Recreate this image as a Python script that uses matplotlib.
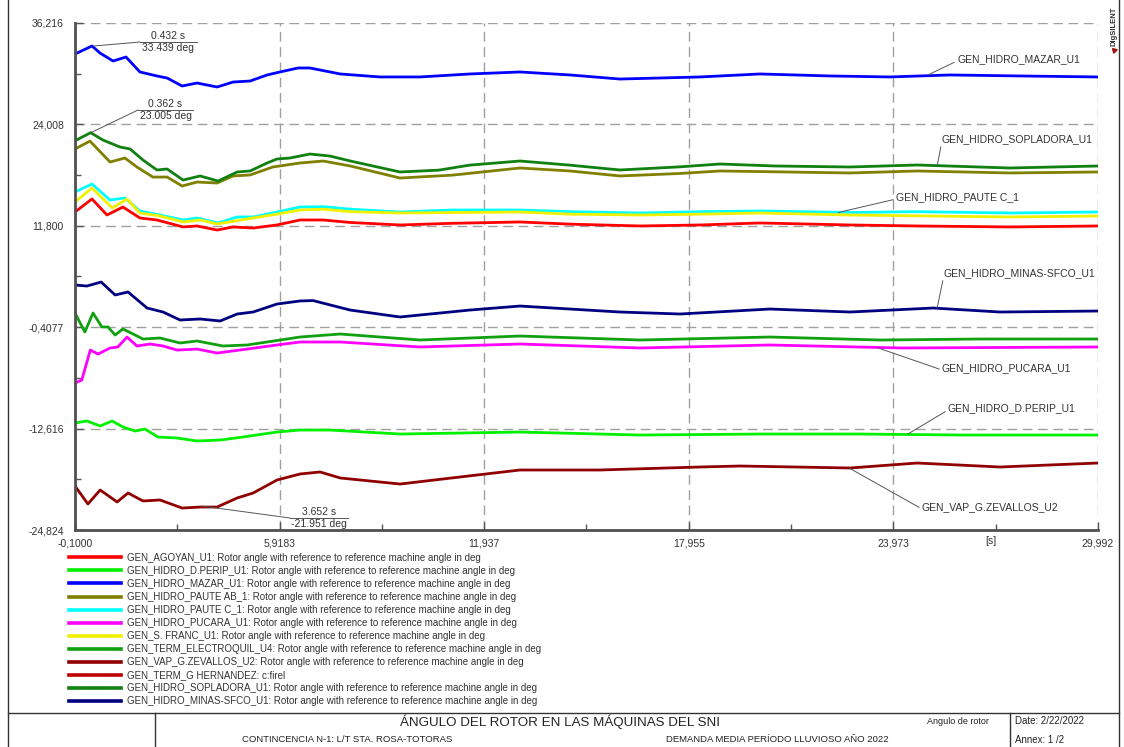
import matplotlib
matplotlib.use('Agg')
import matplotlib.pyplot as plt
from matplotlib.lines import Line2D

plt.rcParams['font.family'] = ['Liberation Sans', 'DejaVu Sans']

# ---- data (time in s, angle in deg) ----
t_agoyan = [-0.1, 0.4, 0.84, 1.31, 1.81, 2.31, 3.08, 3.49, 4.08, 4.55, 5.14, 5.84, 6.52, 7.2, 8.0, 9.46, 11.0, 12.99, 14.46, 16.52, 18.3, 20.05, 22.7, 24.67, 27.4, 29.99]
v_agoyan = [13.46, 15.03, 13.10, 14.06, 12.74, 12.50, 11.66, 11.78, 11.29, 11.66, 11.53, 11.90, 12.50, 12.5, 12.2, 11.90, 12.1, 12.26, 12.0, 11.78, 11.9, 12.14, 11.9, 11.78, 11.66, 11.78]

t_dperip = [-0.1, 0.25, 0.64, 0.99, 1.31, 1.67, 1.96, 2.34, 2.90, 3.49, 4.17, 4.84, 5.84, 6.52, 7.4, 9.46, 12.99, 16.52, 20.05, 23.0, 26.0, 29.99]
v_dperip = [-11.94, -11.70, -12.30, -11.70, -12.42, -12.91, -12.67, -13.63, -13.75, -14.11, -13.99, -13.63, -13.03, -12.79, -12.79, -13.27, -13.03, -13.39, -13.27, -13.27, -13.39, -13.39]

t_mazar = [-0.1, 0.40, 0.635, 1.02, 1.40, 1.81, 2.31, 2.61, 3.05, 3.49, 4.08, 4.55, 5.05, 5.55, 5.93, 6.46, 6.81, 7.70, 8.87, 10.05, 11.52, 12.99, 14.46, 15.93, 18.29, 20.05, 22.11, 23.87, 25.64, 27.7, 29.99]
v_mazar = [32.48, 33.45, 32.60, 31.64, 32.12, 30.32, 29.84, 29.59, 28.63, 28.99, 28.51, 29.11, 29.23, 29.96, 30.32, 30.80, 30.80, 30.08, 29.72, 29.72, 30.08, 30.32, 29.96, 29.47, 29.72, 30.08, 29.84, 29.72, 29.96, 29.84, 29.72]

t_pauteab = [-0.1, 0.34, 0.93, 1.37, 1.72, 2.19, 2.61, 3.05, 3.49, 4.08, 4.55, 5.05, 5.72, 6.52, 7.2, 8.0, 9.46, 11.0, 12.99, 14.46, 15.93, 17.7, 18.87, 20.5, 22.7, 24.67, 27.4, 29.99]
v_pauteab = [21.05, 22.00, 19.48, 19.96, 18.88, 17.67, 17.67, 16.59, 17.07, 16.95, 17.80, 17.92, 18.88, 19.36, 19.6, 19.0, 17.55, 17.9, 18.76, 18.4, 17.8, 18.1, 18.4, 18.3, 18.16, 18.40, 18.16, 18.28]

t_pautec = [-0.1, 0.4, 0.93, 1.37, 1.81, 2.40, 3.08, 3.49, 4.11, 4.67, 5.14, 5.84, 6.52, 7.2, 8.0, 9.46, 11.0, 12.99, 14.46, 16.52, 18.3, 20.05, 22.7, 24.67, 27.4, 29.99]
v_pautec = [15.87, 16.83, 14.91, 15.15, 13.58, 13.10, 12.50, 12.74, 12.14, 12.86, 12.86, 13.46, 14.06, 14.1, 13.8, 13.46, 13.7, 13.70, 13.5, 13.34, 13.5, 13.58, 13.4, 13.5, 13.34, 13.46]

t_pucara = [-0.1, 0.1, 0.35, 0.58, 0.93, 1.16, 1.43, 1.72, 2.11, 2.49, 2.9, 3.49, 4.08, 4.96, 5.84, 6.52, 7.7, 10.05, 12.99, 16.52, 20.34, 24.2, 29.99]
v_pucara = [-7.13, -6.77, -3.16, -3.64, -2.91, -2.79, -1.59, -2.67, -2.43, -2.67, -3.16, -3.04, -3.52, -3.04, -2.55, -2.19, -2.19, -2.79, -2.43, -2.91, -2.55, -2.91, -2.79]

t_sfranc = [-0.1, 0.4, 1.0, 1.43, 1.81, 2.40, 3.08, 3.58, 4.08, 5.14, 5.84, 6.52, 7.2, 8.0, 9.46, 11.0, 12.99, 14.46, 16.52, 18.3, 20.05, 22.7, 24.67, 27.4, 29.99]
v_sfranc = [14.66, 16.35, 13.94, 15.03, 13.34, 12.98, 12.26, 12.5, 12.02, 12.74, 13.2, 13.70, 13.8, 13.5, 13.34, 13.4, 13.46, 13.2, 13.10, 13.2, 13.34, 13.1, 13.0, 12.86, 12.98]

t_electro = [-0.1, 0.19, 0.43, 0.69, 0.87, 1.08, 1.31, 1.90, 2.40, 2.99, 3.49, 4.25, 4.96, 5.55, 6.52, 7.7, 10.05, 12.99, 16.52, 20.34, 23.58, 26.5, 29.99]
v_electro = [1.30, -0.99, 1.30, -0.38, -0.38, -1.35, -0.62, -1.83, -1.71, -2.31, -2.07, -2.67, -2.55, -2.19, -1.59, -1.23, -1.95, -1.47, -1.95, -1.59, -1.95, -1.83, -1.83]

t_zevallos = [-0.1, 0.28, 0.64, 1.14, 1.46, 1.90, 2.40, 3.05, 3.58, 4.08, 4.67, 5.14, 5.84, 6.52, 7.11, 7.7, 9.46, 11.23, 12.99, 15.34, 18.29, 19.46, 22.7, 24.67, 27.11, 29.99]
v_zevallos = [-19.53, -21.69, -20.01, -21.45, -20.37, -21.33, -21.21, -22.18, -22.06, -22.06, -20.97, -20.37, -18.81, -18.08, -17.84, -18.56, -19.29, -18.44, -17.60, -17.60, -17.24, -17.12, -17.36, -16.76, -17.24, -16.76]

t_hernandez = []
v_hernandez = []

t_sopladora = [-0.1, 0.36, 0.72, 1.22, 1.52, 1.90, 2.31, 2.61, 3.08, 3.58, 4.11, 4.67, 5.05, 5.55, 5.84, 6.22, 6.81, 7.4, 8.0, 9.46, 10.6, 11.5, 12.99, 14.46, 15.93, 17.7, 18.87, 20.5, 22.7, 24.67, 27.4, 29.99]
v_sopladora = [22.04, 23.01, 22.13, 21.29, 21.05, 19.72, 18.52, 18.64, 17.31, 17.80, 17.19, 18.28, 18.40, 19.36, 19.84, 19.96, 20.44, 20.2, 19.6, 18.28, 18.5, 19.1, 19.60, 19.1, 18.52, 18.9, 19.24, 19.0, 18.88, 19.12, 18.76, 19.0]

t_minas = [-0.1, 0.25, 0.67, 1.08, 1.46, 2.02, 2.49, 2.99, 3.58, 4.17, 4.67, 5.14, 5.84, 6.52, 6.9, 7.99, 9.46, 11.52, 12.99, 14.46, 15.93, 17.7, 20.34, 22.7, 25.14, 27.11, 29.99]
v_minas = [4.67, 4.55, 5.03, 3.47, 3.83, 1.90, 1.42, 0.46, 0.58, 0.34, 1.18, 1.42, 2.38, 2.75, 2.8, 1.66, 0.82, 1.66, 2.14, 1.78, 1.42, 1.18, 1.78, 1.42, 1.90, 1.42, 1.54]

names = ['GEN_AGOYAN_U1', 'GEN_HIDRO_D.PERIP_U1', 'GEN_HIDRO_MAZAR_U1', 'GEN_HIDRO_PAUTE AB_1',
         'GEN_HIDRO_PAUTE C_1', 'GEN_HIDRO_PUCARA_U1', 'GEN_S. FRANC_U1', 'GEN_TERM_ELECTROQUIL_U4',
         'GEN_VAP_G.ZEVALLOS_U2', 'GEN_TERM_G HERNANDEZ', 'GEN_HIDRO_SOPLADORA_U1', 'GEN_HIDRO_MINAS-SFCO_U1']
suffix = ['Rotor angle with reference to reference machine angle in deg'] * 12
suffix[9] = 'c:firel'
colors = ['#FF0000', '#00F000', '#0000FF', '#808000', '#00FFFF', '#FF00FF', '#F0F000', '#10A010',
          '#900000', '#C00000', '#108010', '#000080']
series = [(t_agoyan, v_agoyan), (t_dperip, v_dperip), (t_mazar, v_mazar), (t_pauteab, v_pauteab),
          (t_pautec, v_pautec), (t_pucara, v_pucara), (t_sfranc, v_sfranc), (t_electro, v_electro),
          (t_zevallos, v_zevallos), (t_hernandez, v_hernandez), (t_sopladora, v_sopladora), (t_minas, v_minas)]

yticks = [36.216, 24.008, 11.800, -0.4077, -12.616, -24.824]
ylabels = ['36,216', '24,008', '11,800', '-0,4077', '-12,616', '-24,824']
xticks = [-0.1, 5.9183, 11.937, 17.955, 23.973, 29.992]
xlabels = ['-0,1000', '5,9183', '11,937', '17,955', '23,973', '29,992']

W, H = 1124, 747
fig = plt.figure(figsize=(W / 100, H / 100), dpi=100)
ax = fig.add_axes([75 / W, 1 - 530 / H, (1098 - 75) / W, (530 - 23) / H])

handles = []
for (t, v), c in zip(series, colors):
    ax.plot(t, v, color=c, lw=2.0, solid_capstyle='round', solid_joinstyle='round')
    handles.append(Line2D([], [], color=c, lw=2.6))

ax.set_xlim(xticks[0], xticks[-1])
ax.set_ylim(yticks[-1], yticks[0])
ax.set_xticks(xticks)
ax.set_xticklabels(xlabels)
ax.set_yticks(yticks)
ax.set_yticklabels(ylabels)
xminor = [(a + b) / 2 for a, b in zip(xticks[:-1], xticks[1:])]
yminor = [(a + b) / 2 for a, b in zip(yticks[:-1], yticks[1:])]
ax.set_xticks(xminor, minor=True)
ax.set_yticks(yminor, minor=True)
ax.tick_params(which='both', direction='in', colors='#555555', labelcolor='#333333', labelsize=7.5, width=1)
ax.tick_params(which='major', length=6)
ax.tick_params(axis='y', which='major', pad=8)
ax.tick_params(axis='x', which='major', pad=6)
ax.tick_params(which='minor', length=4)
for side in ['top', 'right']:
    ax.spines[side].set_visible(False)
for side in ['left', 'bottom']:
    ax.spines[side].set_color('#505050')
    ax.spines[side].set_linewidth(2)
ax.grid(True, which='major', color='#a0a0a0', ls=(0, (7, 4)), lw=1)
ax.set_axisbelow(True)

fig.text(991, H - 541, '[s]', transform=None, ha='center', va='center', fontsize=7.5, color='#333333')


def px(x, y):
    return (x, H - y)


# value callouts
def callout(t, v, knee, end, top, bottom):
    ax.annotate('', xy=(t, v), xycoords='data', xytext=px(*knee), textcoords='figure pixels',
                arrowprops=dict(arrowstyle='-', color='#555555', lw=0.7, shrinkA=0, shrinkB=0))
    fig.add_artist(Line2D([knee[0], end[0]], [H - knee[1], H - end[1]], transform=None, color='#555555', lw=0.7))
    cx = (knee[0] + end[0]) / 2
    fig.text(cx, H - knee[1] + 1, top, transform=None, ha='center', va='bottom', fontsize=7.5, color='#333333')
    fig.text(cx, H - knee[1] - 1, bottom, transform=None, ha='center', va='top', fontsize=7.5, color='#333333')


callout(0.432, 33.439, (140, 42), (197, 42), '0.432 s', '33.439 deg')
callout(0.362, 23.005, (138, 110), (193, 110), '0.362 s', '23.005 deg')
callout(3.652, -21.951, (290, 518), (348, 518), '3.652 s', '-21.951 deg')

# curve labels
labels = [('GEN_HIDRO_MAZAR_U1', 24.99, 29.96, (957, 59)),
          ('GEN_HIDRO_SOPLADORA_U1', 25.26, 19.0, (942, 139)),
          ('GEN_HIDRO_PAUTE C_1', 22.35, 13.4, (896, 197)),
          ('GEN_HIDRO_MINAS-SFCO_U1', 25.26, 1.9, (944, 273)),
          ('GEN_HIDRO_PUCARA_U1', 23.52, -2.9, (942, 368)),
          ('GEN_HIDRO_D.PERIP_U1', 24.4, -13.27, (948, 408)),
          ('GEN_VAP_G.ZEVALLOS_U2', 22.67, -17.36, (922, 507))]
for txt, t, v, pos in labels:
    ax.annotate(txt, xy=(t, v), xycoords='data', xytext=px(*pos), textcoords='figure pixels',
                ha='left', va='center', fontsize=7.5, color='#333333',
                arrowprops=dict(arrowstyle='-', color='#555555', lw=0.7, shrinkA=0, shrinkB=0, relpos=(0, 0.3)))

fig.legend(handles, [f'{n}: {s}' for n, s in zip(names, suffix)], loc='upper left',
           bbox_to_anchor=(64 / W, 1 - 548 / H), frameon=False, fontsize=7, handlelength=5.4,
           handletextpad=0.6, labelspacing=0.31, borderpad=0, labelcolor='#333333')

# frame and title block
frame = dict(transform=None, color='#333333', lw=1)
fig.add_artist(Line2D([8, 8], [0, H], **frame))
fig.add_artist(Line2D([1119, 1119], [0, H], **frame))
fig.add_artist(Line2D([8, 1119], [H - 713, H - 713], **frame))
fig.add_artist(Line2D([155, 155], [0, H - 713], **frame))
fig.add_artist(Line2D([1010, 1010], [0, H - 713], **frame))
narrow = ['Liberation Sans Narrow', 'Liberation Sans', 'DejaVu Sans']
fig.text(560, H - 722, 'ÁNGULO DEL ROTOR EN LAS MÁQUINAS DEL SNI', transform=None, ha='center', va='center',
         fontsize=9.6, family=narrow, color='#222222')
fig.text(347, H - 740, 'CONTINCENCIA N-1: L/T STA. ROSA-TOTORAS', transform=None, ha='center', va='center',
         fontsize=6.8, family=narrow, color='#222222')
fig.text(777, H - 740, 'DEMANDA MEDIA PERÍODO LLUVIOSO AÑO 2022', transform=None, ha='center', va='center',
         fontsize=6.8, family=narrow, color='#222222')
fig.text(958, H - 721, 'Angulo de rotor', transform=None, ha='center', va='center', fontsize=6.5,
         family=narrow, color='#222222')
fig.text(1015, H - 721, 'Date: 2/22/2022', transform=None, ha='left', va='center', fontsize=7,
         family=narrow, color='#222222')
fig.text(1015, H - 740, 'Annex: 1 /2', transform=None, ha='left', va='center', fontsize=7,
         family=narrow, color='#222222')

# logo
fig.text(1114, H - 26, 'DIgSILENT', transform=None, rotation=90, ha='center', va='center', fontsize=5.5,
         fontweight='bold', color='#333333')
fig.add_artist(Line2D([1114], [H - 50], transform=None, marker=(3, 0, 45), color='#a01010', ms=4, ls=''))

fig.savefig('out.png', dpi=100)
